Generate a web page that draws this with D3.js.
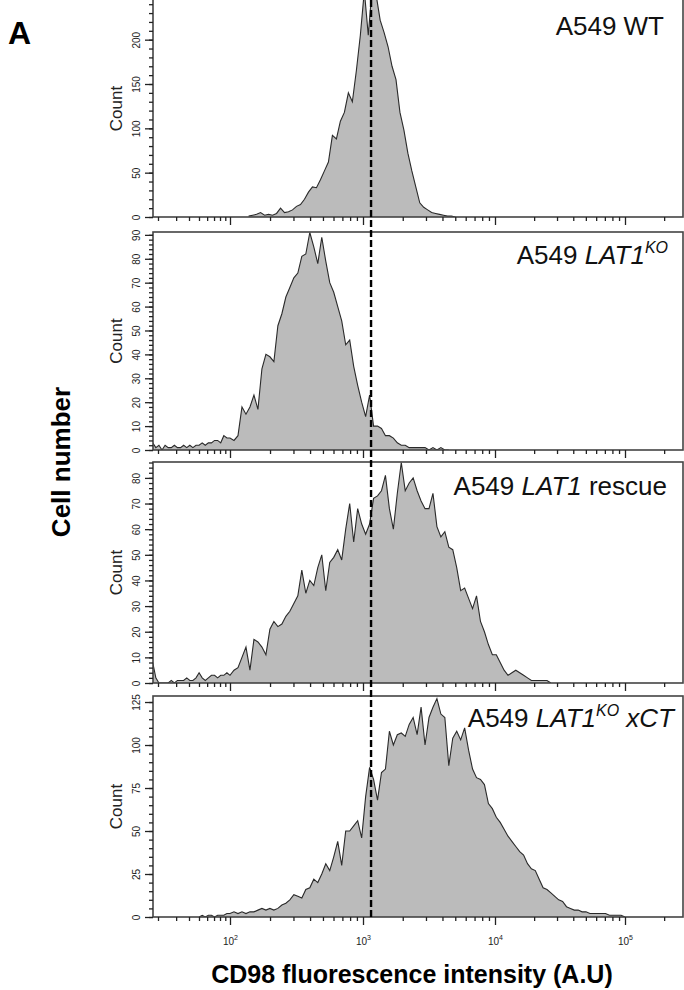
<!DOCTYPE html>
<html>
<head>
<meta charset="utf-8">
<script src="https://cdn.jsdelivr.net/npm/d3@7"></script>
<style>
  body { margin: 0; background: #fff; }
  svg { display: block; font-family: "Liberation Sans", Arial, sans-serif; }
</style>
</head>
<body>
<div id="chart"></div>
<script>
const width = 684;
const height = 990;

// histogram bins are in log10(CD98 intensity), width in decades
const binStep = 0.03;

const wtStart = 2.14;
const wtCounts = [1,2,3,5,2,3,2,4,10,5, 6,8,12,14,20,28,34,33,42,52,
  62,92,88,108,118,140,130,165,205,255, 205,260,250,222,208,192,170,155,118,98,
  72,52,34,16,11,8,5,4,3,2, 1,1,0];

const koStart = 1.25;
const koCounts = [3,1,2,0,2,1,1,2,1,1, 2,1,2,1,2,2,3,2,3,3,
  4,4,3,6,5,5,4,6,18,15, 18,23,17,34,40,39,37,52,57,64,
  68,72,74,81,82,91,85,78,89,79, 70,66,60,54,44,46,35,27,20,14,
  23,10,10,9,6,6,5,3,2,2, 1,1,1,1,1,0,1,0,1,0, 0];

const rescueStart = 1.25;
const rescueCounts = [8,2,0,0,0,0,1,0,1,1, 1,2,1,1,2,4,2,1,2,3,
  3,2,3,3,4,3,5,6,10,14, 5,17,16,14,11,21,24,22,23,26,
  28,31,34,44,35,40,38,45,50,36, 47,49,52,48,60,70,55,68,62,58,
  62,72,73,75,81,68,60,74,86,75, 78,80,75,71,68,68,74,61,57,59,
  53,52,45,36,37,33,29,34,24,20, 15,11,11,8,5,3,4,5,4,3,
  2,1,1,1,1,1,0];

const xctStart = 1.70;
const xctCounts = [0,1,0,1,1,0,1,1,1,2, 2,3,2,3,2,3,3,4,5,4,
  5,4,5,7,8,10,13,12,11,16, 17,22,20,25,31,27,35,44,30,50,
  50,53,56,46,70,87,80,68,84,86, 108,100,106,107,105,112,116,106,122,100,
  116,122,127,118,116,88,104,108,103,110, 97,86,81,80,77,66,63,58,55,51,
  47,44,41,38,36,31,28,27,22,17, 16,14,12,10,9,6,5,4,4,3,
  3,2,2,2,2,2,1,1,1,1, 0];

const yMax = [247, 91.2, 86.2, 128.5];
const yMajorStep = [50, 10, 10, 25];
const yMinorStep = [10, 2, 2, 5];
const decades = [2, 3, 4, 5];
const gateLog = 3.061;

const titles = [
  [{ t: "A549 WT" }],
  [{ t: "A549 " }, { t: "LAT1", i: true }, { t: "KO", i: true, sup: true }],
  [{ t: "A549 " }, { t: "LAT1", i: true }, { t: " rescue" }],
  [{ t: "A549 " }, { t: "LAT1", i: true }, { t: "KO", i: true, sup: true }, { t: " xCT", i: true }]
];

const panels = [
  { start: wtStart, counts: wtCounts },
  { start: koStart, counts: koCounts },
  { start: rescueStart, counts: rescueCounts },
  { start: xctStart, counts: xctCounts }
];

// layout
const left = 153, right = 683;
const tops = [-2, 232, 462, 696];
const bottoms = [217, 450, 683, 917];
const titleY = [35, 264, 495, 727];
const titleX = [664, 668, 667, 674];

// FlowJo-like display: compressed below 10^2, log above
const xd0 = 1.2525, xd1 = 5.446;
const x = d3.scaleLinear()
  .domain([xd0, 2, 3, 4, 5, xd1])
  .range([left, 230, 363, 495, 625, right]);

const minorLogs = [];
[1, 2, 3, 4, 5].forEach(n => {
  for (let k = 2; k <= 9; k++) {
    const v = n + Math.log10(k);
    if (v >= xd0 && v <= xd1) minorLogs.push(v);
  }
});

const svg = d3.select("#chart").append("svg")
  .attr("width", width)
  .attr("height", height);

panels.forEach((p, i) => {
  const top = tops[i], bottom = bottoms[i];
  const y = d3.scaleLinear().domain([0, yMax[i]]).range([bottom, top]);
  const g = svg.append("g");

  svg.append("clipPath").attr("id", "clip" + i)
    .append("rect")
    .attr("x", left).attr("y", top)
    .attr("width", right - left).attr("height", bottom - top);

  const pts = p.counts.map((c, j) => ({ v: p.start + j * binStep, c: c }));

  g.append("path")
    .datum(pts)
    .attr("clip-path", "url(#clip" + i + ")")
    .attr("fill", "#bbbbbb")
    .attr("d", d3.area().x(d => x(d.v)).y0(y(0)).y1(d => y(d.c)));

  g.append("path")
    .datum(pts)
    .attr("clip-path", "url(#clip" + i + ")")
    .attr("fill", "none")
    .attr("stroke", "#2a2a2a")
    .attr("stroke-width", 1.1)
    .attr("d", d3.line().x(d => x(d.v)).y(d => y(d.c)));

  // frame
  g.append("rect")
    .attr("x", left).attr("y", top)
    .attr("width", right - left).attr("height", bottom - top)
    .attr("fill", "none")
    .attr("stroke", "#444")
    .attr("stroke-width", 1.6);

  // x ticks
  const xMinor = g.append("g")
    .attr("transform", "translate(0," + bottom + ")")
    .call(d3.axisBottom(x).tickValues(minorLogs).tickSize(4).tickSizeOuter(0).tickFormat(""));
  const xMajor = g.append("g")
    .attr("transform", "translate(0," + bottom + ")")
    .call(d3.axisBottom(x).tickValues(decades).tickSize(8).tickSizeOuter(0));
  [xMinor, xMajor].forEach(a => {
    a.select(".domain").remove();
    a.selectAll(".tick line").attr("stroke", "#222").attr("stroke-width", 1.3);
  });
  if (i === panels.length - 1) {
    xMajor.selectAll(".tick text").each(function(d) {
      const t = d3.select(this).text(null)
        .attr("y", 28).attr("dy", 0)
        .attr("font-size", 10)
        .attr("fill", "#222")
        .attr("font-family", "Liberation Sans, Arial, sans-serif");
      t.append("tspan").text("10");
      t.append("tspan").attr("dy", -5).attr("font-size", 7).text(d);
    });
  } else {
    xMajor.selectAll(".tick text").remove();
  }

  // y ticks
  const yMinor = g.append("g")
    .attr("transform", "translate(" + left + ",0)")
    .call(d3.axisLeft(y).tickValues(d3.range(0, yMax[i] + 0.01, yMinorStep[i])).tickSize(4).tickSizeOuter(0).tickFormat(""));
  const yMajor = g.append("g")
    .attr("transform", "translate(" + left + ",0)")
    .call(d3.axisLeft(y).tickValues(d3.range(0, yMax[i] + 0.01, yMajorStep[i])).tickSize(8).tickSizeOuter(0));
  [yMinor, yMajor].forEach(a => {
    a.select(".domain").remove();
    a.selectAll(".tick line").attr("stroke", "#222").attr("stroke-width", 1.3);
  });
  yMajor.selectAll(".tick text")
    .attr("transform", "rotate(-90)")
    .attr("x", 0).attr("y", -13).attr("dy", 0)
    .attr("text-anchor", "middle")
    .attr("font-size", 10)
    .attr("fill", "#222")
    .attr("font-family", "Liberation Sans, Arial, sans-serif");

  g.append("text")
    .attr("transform", "translate(122," + ((Math.max(top, 0) + bottom) / 2) + ") rotate(-90)")
    .attr("text-anchor", "middle")
    .attr("font-size", 17)
    .attr("fill", "#222")
    .text("Count");

  const title = g.append("text")
    .attr("x", titleX[i]).attr("y", titleY[i])
    .attr("text-anchor", "end")
    .attr("font-size", 26)
    .attr("fill", "#111");
  let shift = 0;
  titles[i].forEach(s => {
    const ts = title.append("tspan").text(s.t);
    if (s.i) ts.attr("font-style", "italic");
    if (s.sup) {
      ts.attr("font-size", 16).attr("dy", -11);
      shift = 11;
    } else if (shift) {
      ts.attr("dy", shift);
      shift = 0;
    }
  });
});

// reference gate line through all panels
svg.append("line")
  .attr("x1", x(gateLog)).attr("x2", x(gateLog))
  .attr("y1", 0).attr("y2", bottoms[3])
  .attr("stroke", "#000")
  .attr("stroke-width", 2.4)
  .attr("stroke-dasharray", "7,3");

svg.append("text")
  .attr("x", 8).attr("y", 44)
  .attr("font-size", 32)
  .attr("font-weight", "bold")
  .text("A");

svg.append("text")
  .attr("transform", "translate(70,462) rotate(-90)")
  .attr("text-anchor", "middle")
  .attr("font-size", 26)
  .attr("font-weight", "bold")
  .text("Cell number");

svg.append("text")
  .attr("x", 412).attr("y", 983)
  .attr("text-anchor", "middle")
  .attr("font-size", 25)
  .attr("font-weight", "bold")
  .text("CD98 fluorescence intensity (A.U)");
</script>
</body>
</html>
